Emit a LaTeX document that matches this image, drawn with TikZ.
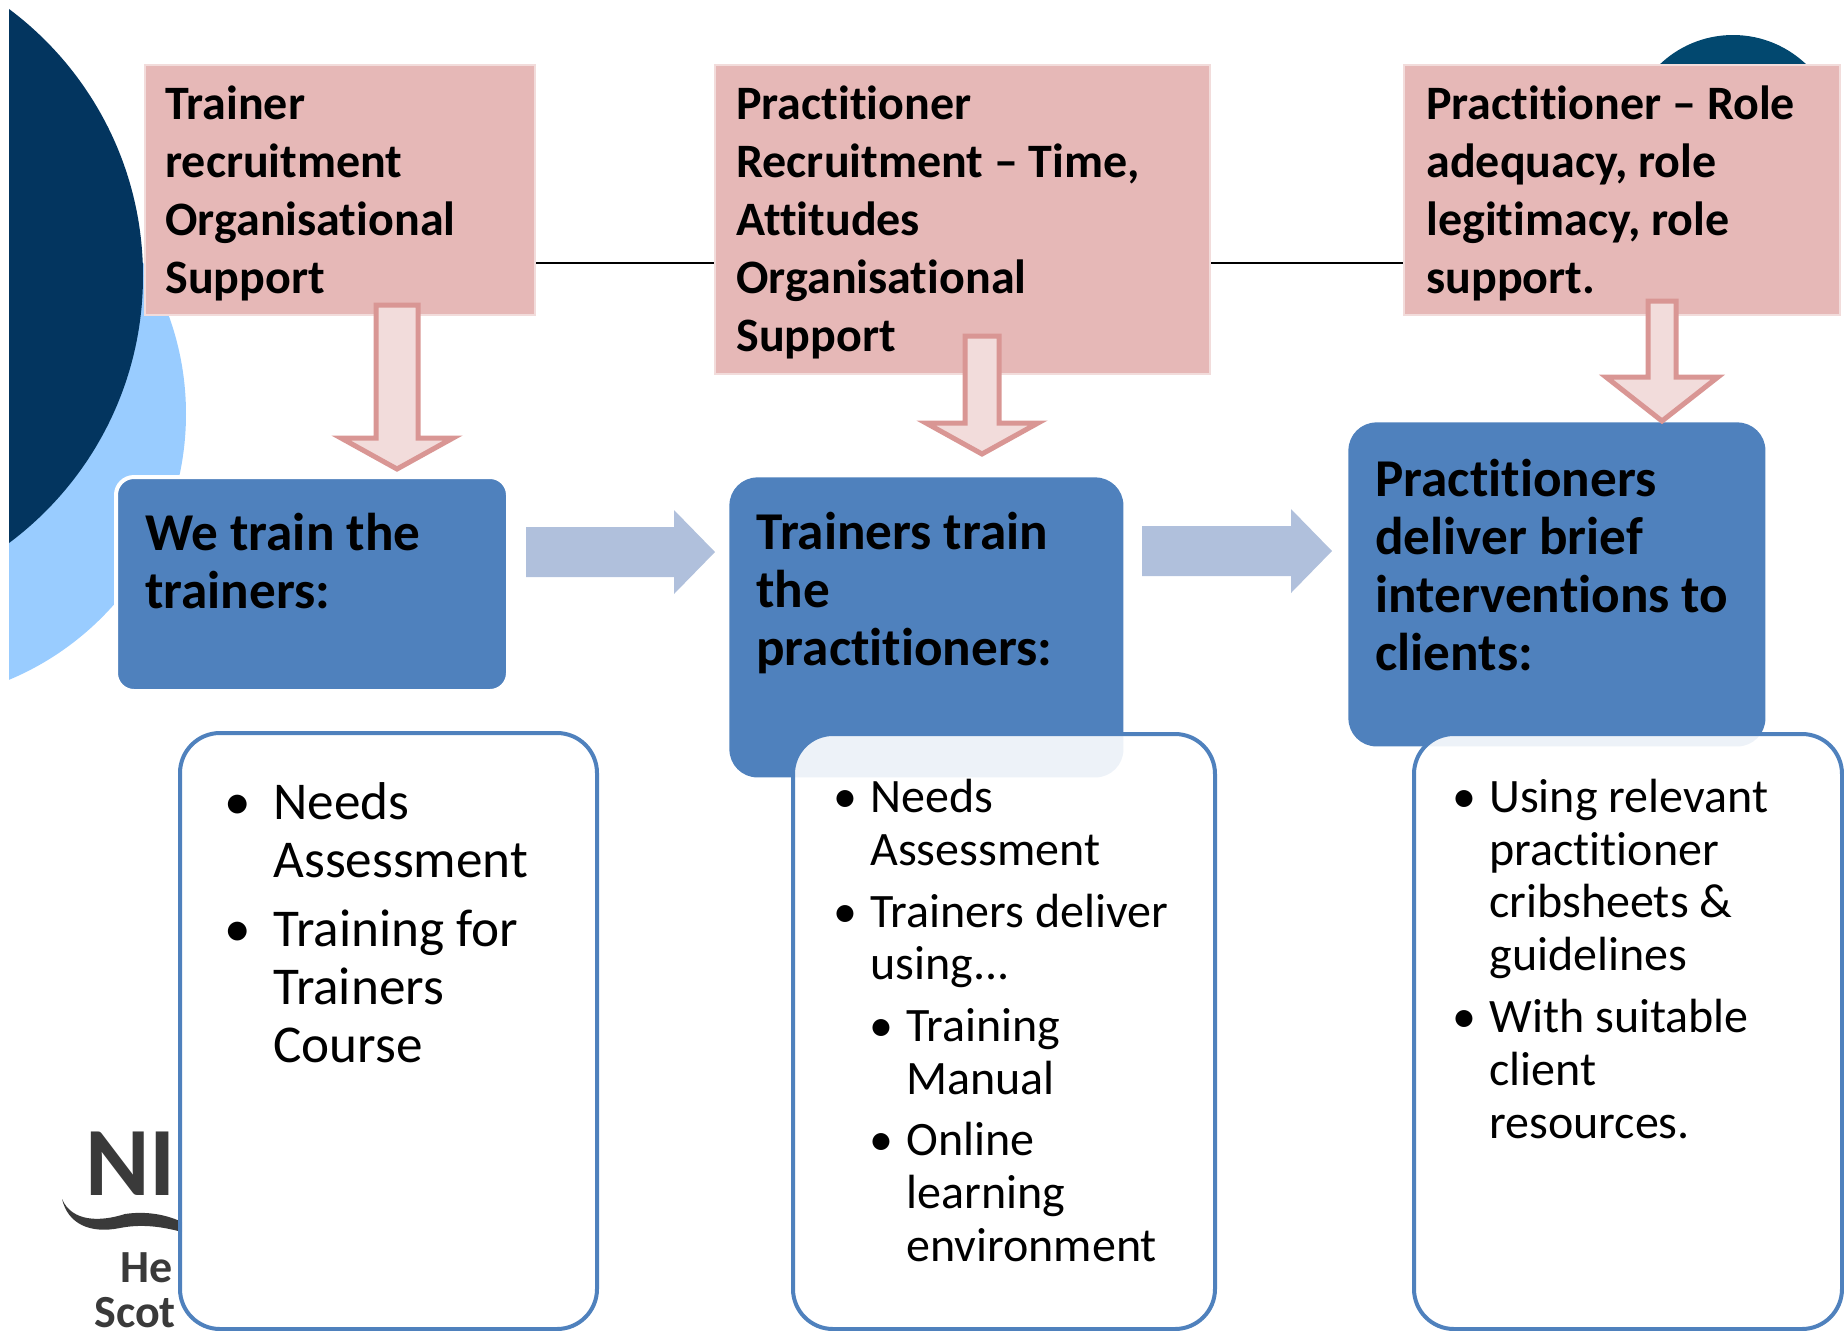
\documentclass[tikz,border=0pt]{standalone}
\usepackage{fontspec}
\setmainfont[Ligatures=NoCommon]{Carlito}
\usetikzlibrary{calc}

\definecolor{navy}{HTML}{03355F}
\definecolor{skyblue}{HTML}{99CCFF}
\definecolor{teal}{HTML}{02486F}
\definecolor{pinkfill}{HTML}{E6B8B7}
\definecolor{pinkedge}{HTML}{F2DCDB}
\definecolor{pinkline}{HTML}{D99694}
\definecolor{boxblue}{HTML}{4F81BD}
\definecolor{paleblue}{HTML}{B0C0DC}
\definecolor{logogrey}{HTML}{3A3A3A}

\newcommand{\pinkfont}{\fontsize{24}{28.9}\selectfont\bfseries}
\newcommand{\bluefont}{\fontsize{26.6}{29}\selectfont\bfseries}
\newcommand{\listfont}{\fontsize{26.6}{29}\selectfont}
\newcommand{\smallfont}{\fontsize{24}{26.3}\selectfont}
\newcommand{\bul}{\llap{\textbullet\hspace{11.4pt}}}
\newcommand{\smallbul}{\llap{\textbullet\hspace{6.6pt}}}
\newcommand{\subind}{\hspace*{18pt}}

% tail, tip, half shaft, half head, head length
\newcommand{\pinkdown}[5]{\draw[pinkarrow] ($(#1)+(-#3,0)$) -- ($(#2)+(-#3,-#5)$) -- ($(#2)+(-#4,-#5)$) -- (#2)
  -- ($(#2)+(#4,-#5)$) -- ($(#2)+(#3,-#5)$) -- ($(#1)+(#3,0)$) -- cycle;}
% tail, tip, half shaft, half head, head length
\newcommand{\blueright}[5]{\fill[paleblue] ($(#1)+(0,-#3)$) -- ($(#2)+(-#5,-#3)$) -- ($(#2)+(-#5,-#4)$) -- (#2)
  -- ($(#2)+(-#5,#4)$) -- ($(#2)+(-#5,#3)$) -- ($(#1)+(0,#3)$) -- cycle;}

\begin{document}
\begin{tikzpicture}[x=0.5pt,y=-0.5pt]

    % `pinkbox' is the top row, `bluebox' the middle row, `listbox' the bottom row.
    \tikzstyle{pinkbox} = [draw=pinkedge,fill=pinkfill,line width=1pt,anchor=north west,inner sep=0pt]
    \tikzstyle{bluebox} = [fill=boxblue,anchor=north west,inner sep=0pt,rounded corners=14pt]
    \tikzstyle{listbox} = [draw=boxblue,fill=white,fill opacity=0.9,draw opacity=1,line width=2pt,anchor=north west,inner sep=0pt,rounded corners=20pt]
    \tikzstyle{words} = [anchor=base west,inner sep=0pt,align=left]
    \tikzstyle{logoword} = [anchor=base west,inner sep=0pt,text=logogrey,font=\bfseries]
    \tikzstyle{pinkarrow} = [draw=pinkline,fill=pinkedge,line width=2.5pt,miter limit=10]

    \useasboundingbox (0,0) rectangle (1844,1330);

    % Circles behind everything.
    \begin{scope}
        \clip (9,0) rectangle (1844,1330);
        \fill[skyblue] (-102,414) circle (288);
        \fill[navy] (-190,276) circle (333);
        \fill[teal] (1733,141) circle (106);
    \end{scope}

    % Logo.
    \node[logoword,font=\fontsize{49}{49}\selectfont\bfseries] (logoa) at (85,1195) {NI};
    \node[logoword,font=\fontsize{23}{23}\selectfont\bfseries] (logob) at (120,1282) {He};
    \node[logoword,font=\fontsize{23}{23}\selectfont\bfseries] (logoc) at (94,1327) {Scot};
    \fill[logogrey] (62,1199) .. controls (72,1222) and (100,1222) .. (125,1214)
        .. controls (145,1211) and (165,1214) .. (182,1222) -- (182,1232)
        .. controls (160,1226) and (140,1224) .. (120,1228) .. controls (90,1234) and (68,1224) .. (62,1199) -- cycle;

    % First row.
    \node[pinkbox,minimum width=195pt,minimum height=125pt] (pinka) at (144,64) {};
    \node[pinkbox,minimum width=247.5pt,minimum height=154.5pt] (pinkb) at (714,64) {};
    \node[pinkbox,minimum width=218pt,minimum height=125pt] (pinkc) at (1403,64) {};
    \coordinate (lvl) at (0,263);
    \draw[line width=1.3pt] (pinka.east |- lvl) -- (pinkb.west |- lvl) (pinkb.east |- lvl) -- (pinkc.west |- lvl);

    \node[words,font=\pinkfont] (texta) at (165,293) {Trainer\\recruitment\\Organisational\\Support};
    \node[words,font=\pinkfont] (textb) at (736,351) {Practitioner\\Recruitment -- Time,\\Attitudes\\Organisational\\Support};
    \node[words,font=\pinkfont] (textc) at (1426,293) {Practitioner -- Role\\adequacy, role\\legitimacy, role\\support.};

    % Second row.
    \node[bluebox,draw=white,line width=2pt,rounded corners=9pt,minimum width=196pt,minimum height=107pt] (bluea) at (114,475) {};
    \node[bluebox,minimum width=197pt,minimum height=150pt] (blueb) at (729,477) {};
    \node[bluebox,minimum width=208.5pt,minimum height=162pt] (bluec) at (1348,422) {};

    \node[words,font=\bluefont] (wordsa) at (145,608) {We train the\\trainers:};
    \node[words,font=\bluefont] (wordsb) at (756,665) {Trainers train\\the\\practitioners:};
    \node[words,font=\bluefont] (wordsc) at (1375,670) {Practitioners\\deliver brief\\interventions to\\clients:};

    % Arrows.
    \coordinate (taila) at (397,305);
    \coordinate (tipa) at (397,469);
    \coordinate (tailb) at (982,336);
    \coordinate (tipb) at (982,454);
    \coordinate (tailc) at (1662,301);
    \coordinate (tipc) at (1662,421);
    \pinkdown{taila}{tipa}{21}{56}{31}
    \pinkdown{tailb}{tipb}{17}{56}{31}
    \pinkdown{tailc}{tipc}{14}{56}{44}
    \coordinate (starta) at (526,552);
    \coordinate (enda) at (715,552);
    \coordinate (startb) at (1142,551);
    \coordinate (endb) at (1332,551);
    \blueright{starta}{enda}{25}{42}{41}
    \blueright{startb}{endb}{25}{42}{41}

    % Third row.
    \node[listbox,minimum width=208.5pt,minimum height=298pt] (lista) at (178,731) {};
    \node[listbox,minimum width=211pt,minimum height=297.5pt] (listb) at (791,732) {};
    \node[listbox,minimum width=214pt,minimum height=297.5pt] (listc) at (1412,732) {};

    \node[words,font=\listfont] (itemsa) at (273,1062) {\bul Needs\\Assessment\\[5.5pt]\bul Training for\\Trainers\\Course};
    \node[words,font=\smallfont] (itemsb) at (870,1261) {\smallbul Needs\\Assessment\\[4.6pt]\smallbul Trainers deliver\\using...\\[4.6pt]\subind\smallbul Training\\\subind Manual\\[4.6pt]\subind\smallbul Online\\\subind learning\\\subind environment};
    \node[words,font=\smallfont] (itemsc) at (1489,1138) {\smallbul Using relevant\\practitioner\\cribsheets \&\\guidelines\\[5pt]\smallbul With suitable\\client\\resources.};
    %
\end{tikzpicture}
\end{document}
